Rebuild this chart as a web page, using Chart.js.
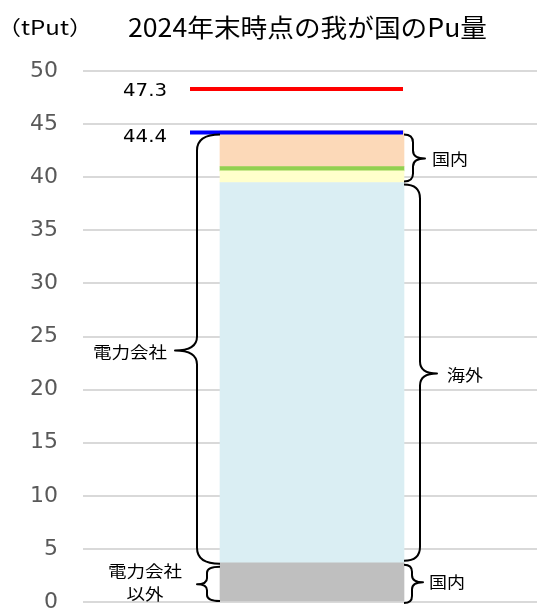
<!DOCTYPE html>
<html>
<head>
<meta charset="utf-8">
<script src="https://cdn.jsdelivr.net/npm/chart.js@4.4.1/dist/chart.umd.min.js"></script>
<style>
  html, body { margin: 0; padding: 0; background: #ffffff; overflow: hidden; }
  #wrap { position: absolute; left: 0; top: 0; width: 541px; height: 610px; }
</style>
</head>
<body>
<div id="wrap"><canvas id="c"></canvas></div>
<script>
// ---- data ----
const categories = ['2024年末'];
const seriesNames = ['電力会社以外（国内）', '電力会社（海外）', '電力会社（国内）1', '電力会社（国内）2', '電力会社（国内）3'];
const otherDomestic = [3.7];      // grey
const utilityOverseas = [35.8];   // light blue
const utilityDomesticA = [1.1];   // light yellow
const utilityDomesticB = [0.4];   // green
const utilityDomesticC = [3.4];   // peach
const yTicks = [0, 5, 10, 15, 20, 25, 30, 35, 40, 45, 50];
const refLineValues = [48.3, 44.2];
const refLineLabels = ['47.3', '44.4'];
const titleText = '2024年末時点の我が国のPu量';
const unitText = '（tPut）';
const braceLabels = ['電力会社', '電力会社\n以外', '国内', '海外', '国内'];

const seriesColors = ['#bfbfbf', '#daeef3', '#ffffcc', '#92d050', '#fcd9b8'];
const refLineColors = ['#ff0000', '#0000ff'];
const CJK = '"Noto Sans CJK JP", "DejaVu Sans", sans-serif';
const NUM = '"DejaVu Sans", "Noto Sans CJK JP", sans-serif';

function fitText(ctx, text, x, y, align, font, width) {
  ctx.save();
  ctx.font = font;
  ctx.textBaseline = 'middle';
  ctx.textAlign = 'left';
  const w = ctx.measureText(text).width;
  const s = width ? width / w : 1;
  let left = x;
  if (align === 'right') left = x - w * s;
  else if (align === 'center') left = x - w * s / 2;
  ctx.translate(left, y);
  ctx.scale(s, 1);
  ctx.fillText(text, 0, 0);
  ctx.restore();
}

function brace(ctx, xEnd, xLine, xTip, yTop, yBot, ym, r, rm) {
  ctx.beginPath();
  ctx.moveTo(xEnd, yTop);
  ctx.quadraticCurveTo(xLine, yTop, xLine, yTop + r);
  ctx.lineTo(xLine, ym - rm);
  ctx.quadraticCurveTo(xLine, ym, xTip, ym);
  ctx.quadraticCurveTo(xLine, ym, xLine, ym + rm);
  ctx.lineTo(xLine, yBot - r);
  ctx.quadraticCurveTo(xLine, yBot, xEnd, yBot);
  ctx.stroke();
}

const overlay = {
  id: 'overlay',
  afterDatasetsDraw(chart) {
    const ctx = chart.ctx;
    const y = chart.scales.y;
    const bar = chart.getDatasetMeta(0).data[0];
    const bL = bar.x - bar.width / 2;
    const bR = bar.x + bar.width / 2;

    const s1 = otherDomestic[0];
    const s2 = s1 + utilityOverseas[0];
    const total = s2 + utilityDomesticA[0] + utilityDomesticB[0] + utilityDomesticC[0];

    // reference lines
    ctx.save();
    ctx.lineWidth = 4;
    refLineValues.forEach((v, i) => {
      ctx.strokeStyle = refLineColors[i];
      ctx.beginPath();
      ctx.moveTo(bL - 30, y.getPixelForValue(v));
      ctx.lineTo(bR - 1, y.getPixelForValue(v));
      ctx.stroke();
    });
    ctx.restore();

    // line labels
    ctx.fillStyle = '#000000';
    refLineValues.forEach((v, i) => {
      fitText(ctx, refLineLabels[i], bL - 53, y.getPixelForValue(v) + (i === 0 ? 2 : 5), 'right', '18px ' + NUM, 44);
    });

    // braces
    ctx.save();
    ctx.strokeStyle = '#000000';
    ctx.lineWidth = 2;
    ctx.lineJoin = 'round';
    const yTot = y.getPixelForValue(total) + 4;
    const yS1 = y.getPixelForValue(s1);
    const yS2 = y.getPixelForValue(s2);
    const y0 = y.getPixelForValue(0);
    // big left brace: 電力会社
    brace(ctx, bL, bL - 23, bL - 45, yTot, yS1 + 1, (yTot + yS1) / 2 + 2, 16, 14);
    // small left brace: 電力会社以外
    brace(ctx, bL, bL - 13, bL - 23, yS1 + 4, y0 - 1, (yS1 + y0) / 2 + 2, 6, 6);
    // right top: 国内
    brace(ctx, bR, bR + 9, bR + 21, yTot, yS2 - 1, (yTot + yS2) / 2, 8, 8);
    // right: 海外
    brace(ctx, bR, bR + 16, bR + 33, yS2 + 2, yS1 - 2, (yS2 + yS1) / 2 + 1, 14, 12);
    // right bottom: 国内
    brace(ctx, bR, bR + 8, bR + 19, yS1 + 2, y0 + 1, (yS1 + y0) / 2, 7, 7);
    ctx.restore();

    // brace labels
    ctx.fillStyle = '#000000';
    const f = '16px ' + CJK;
    fitText(ctx, braceLabels[0], bL - 53, (yTot + yS1) / 2 + 3, 'right', f, 74);
    const parts = braceLabels[1].split('\n');
    fitText(ctx, parts[0], 145, 571, 'center', f, 74);
    fitText(ctx, parts[1], 145, 594, 'center', f, 37);
    fitText(ctx, braceLabels[2], bR + 28, 159, 'left', f, 36);
    fitText(ctx, braceLabels[3], bR + 43, 375, 'left', f, 36);
    fitText(ctx, braceLabels[4], bR + 25, 582, 'left', f, 36);

    // title and unit
    fitText(ctx, titleText, 128, 27, 'left', '25px ' + CJK, 359);
    fitText(ctx, unitText, -3, 27, 'left', '20px ' + CJK, 96);
  }
};

const datasets = [otherDomestic, utilityOverseas, utilityDomesticA, utilityDomesticB, utilityDomesticC].map((d, i) => ({
  label: seriesNames[i],
  data: d,
  backgroundColor: seriesColors[i],
  borderWidth: 0,
  barThickness: 184
}));

new Chart(document.getElementById('c'), {
  type: 'bar',
  data: { labels: categories, datasets },
  options: {
    responsive: true,
    maintainAspectRatio: false,
    animation: false,
    devicePixelRatio: 1,
    layout: { padding: { top: 71, bottom: 8, left: 0, right: 0 } },
    plugins: { legend: { display: false }, tooltip: { enabled: false }, title: { display: false } },
    scales: {
      x: { display: false, stacked: true },
      y: {
        stacked: true,
        min: 0, max: 50,
        afterBuildTicks(scale) { scale.ticks = yTicks.map(v => ({ value: v })); },
        afterFit(scale) { scale.width = 83; scale.paddingTop = 0; scale.paddingBottom = 0; },
        border: { display: false },
        grid: { color: '#d9d9d9', lineWidth: 2, drawTicks: false },
        ticks: { color: '#595959', padding: 25, font: { family: NUM, size: 22 } }
      }
    }
  },
  plugins: [overlay]
});
</script>
</body>
</html>
